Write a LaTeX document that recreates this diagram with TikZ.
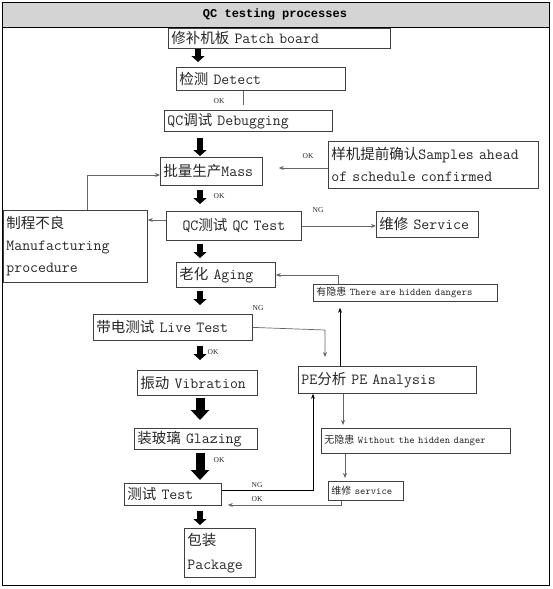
\documentclass[tikz,border=0pt]{standalone}
\usepackage{fontspec}
\setmainfont{Liberation Mono}
\newfontfamily\cjkf{Noto Sans CJK SC}
\newfontfamily\serf{Liberation Serif}
\usetikzlibrary{arrows.meta}
\newcommand\zh[1]{{\cjkf\fontsize{14.5}{21}\selectfont #1}}
\newcommand\zhs[1]{{\cjkf\fontsize{10}{12}\selectfont #1}}
\tikzset{
 box/.style={draw=black!75, line width=0.8pt, anchor=north west, inner xsep=3pt, inner ysep=0pt, align=left, text=black!85, font=\ttfamily\fontsize{15.4}{22}\selectfont},
 sbox/.style={box, font=\ttfamily\fontsize{10.2}{12}\selectfont},
 conn/.style={draw=black!60, line width=0.7pt, -{Stealth[length=5pt,width=4pt]}},
 plainconn/.style={draw=black!60, line width=0.7pt},
 bigarr/.style={line width=6pt, -{Triangle[length=6pt,width=13pt]}},
 bigarrw/.style={line width=9pt, -{Triangle[length=10pt,width=18pt]}},
 lbl/.style={font=\serf\fontsize{7.5}{9}\selectfont, inner sep=0pt, text=black!85}
}
\begin{document}
\begin{tikzpicture}[x=1pt,y=-1pt]
\useasboundingbox (0,0) rectangle (553,589);
% frame and title bar
\fill[black!17] (2,2) rectangle (549,27);
\draw[line width=0.8pt] (2,2) rectangle (549,585);
\draw[line width=0.8pt] (2,27) -- (549,27);
\node[font=\bfseries\fontsize{12}{14}\selectfont] (title) at (275,14.5) {QC testing processes};

% boxes
\node[box, text width=216pt, minimum height=20pt] (patch) at (168,28) {\mbox{\zh{修补机板} Patch board}};
\node[box, text width=163pt, minimum height=23pt] (detect) at (176,67) {\mbox{\zh{检测} Detect}};
\node[box, text width=162pt, minimum height=21pt] (debug) at (164,110) {\mbox{QC\zh{调试} Debugging}};
\node[box, text width=96pt, minimum height=28pt] (mass) at (160,157) {\mbox{\zh{批量生产}Mass}};
\node[box, text width=204pt, minimum height=47pt] (samples) at (328,141) {\mbox{\zh{样机提前确认}Samples ahead}\\\mbox{of schedule confirmed}};
\node[box, text width=138pt, minimum height=72pt] (manu) at (3,210) {\zh{制程不良}\\Manufacturing\\procedure};
\node[box, text width=129pt, minimum height=29pt, align=center] (qctest) at (166,211) {\mbox{QC\zh{测试} QC Test}};
\node[box, text width=96pt, minimum height=26pt] (service) at (376,211) {\mbox{\zh{维修} Service}};
\node[box, text width=93pt, minimum height=25pt] (aging) at (176,262) {\mbox{\zh{老化} Aging}};
\node[sbox, text width=178pt, minimum height=17pt] (hidden) at (313,284) {\mbox{\zhs{有隐患} There are hidden dangers}};
\node[box, text width=153pt, minimum height=26pt] (live) at (93,314) {\mbox{\zh{带电测试} Live Test}};
\node[box, text width=172pt, minimum height=27pt] (pe) at (298,366) {\mbox{PE\zh{分析} PE Analysis}};
\node[box, text width=114pt, minimum height=25pt] (vib) at (137,370) {\mbox{\zh{振动} Vibration}};
\node[box, text width=117pt, minimum height=21pt] (glaz) at (134,428) {\mbox{\zh{装玻璃} Glazing}};
\node[box, text width=91pt, minimum height=22pt] (test) at (124,483) {\mbox{\zh{测试} Test}};
\node[sbox, text width=183pt, minimum height=25pt] (without) at (321,428) {\mbox{\zhs{无隐患} Without the hidden danger}};
\node[sbox, text width=69pt, minimum height=19pt] (svc2) at (328,481) {\mbox{\zhs{维修} service}};
\node[box, text width=65pt, minimum height=49pt, font=\ttfamily\fontsize{15.4}{24}\selectfont] (pkg) at (184,528) {\zh{包装}\\Package};

% helper coordinates
\coordinate (xa) at (198,0);
\coordinate (xb) at (200,0);
\coordinate (xd) at (243,0);
\coordinate (ys) at (0,168);
\coordinate (fb) at (87,175);
\coordinate (yq) at (0,220);
\coordinate (xh) at (338,275);
\coordinate (lp) at (325,330);
\coordinate (xp) at (340,0);
\coordinate (tn) at (313,490);
\coordinate (xw) at (343,0);
\coordinate (xs) at (345,0);
\coordinate (ok1) at (341,505);

% big arrows
\draw[bigarr, shorten >=5pt] (patch.south -| xa) -- (detect.north -| xa);
\draw[bigarr, shorten <=6pt, shorten >=1pt] (debug.south -| xb) -- (mass.north -| xb);
\draw[bigarr, shorten <=4pt, shorten >=7pt] (mass.south -| xb) -- (qctest.north -| xb);
\draw[bigarr, shorten <=3pt, shorten >=4pt] (qctest.south -| xb) -- (aging.north -| xb);
\draw[bigarr, shorten <=3pt, shorten >=9pt] (aging.south -| xb) -- (live.north -| xb);
\draw[bigarr, shorten <=5pt, shorten >=10pt] (live.south -| xb) -- (vib.north -| xb);
\draw[bigarrw, shorten <=2pt, shorten >=8pt] (vib.south -| xb) -- (glaz.north -| xb);
\draw[bigarrw, shorten <=3pt, shorten >=3pt] (glaz.south -| xb) -- (test.north -| xb);
\draw[bigarr, shorten <=5pt, shorten >=3pt] (test.south -| xb) -- (pkg.north -| xb);

% thin connectors
\draw[plainconn] (detect.south -| xd) -- ++(0,14);
\draw[conn, shorten >=16pt] (samples.west |- ys) -- (mass.east |- ys);
\draw[conn] (manu.north -| fb) |- (mass.west |- fb);
\draw[conn] (qctest.west |- yq) -- (manu.east |- yq);
\draw[conn] (qctest.east) -- (qctest.east -| service.west);
\draw[conn] (hidden.north -| xh) -- (xh) -- (aging.east |- xh);
\draw[conn, shorten >=9pt] (live.east) -- (lp) -- (pe.north -| lp);
\draw[conn, draw=black, shorten >=6pt] (pe.north -| xp) -- (hidden.south -| xp);
\draw[conn, draw=black] (test.east |- tn) -- (tn) -- (pe.south -| tn);
\draw[conn, shorten >=3pt] (pe.south -| xw) -- (without.north -| xw);
\draw[conn, shorten >=3pt] (without.south -| xs) -- (svc2.north -| xs);
\draw[conn, shorten >=6pt] (svc2.south -| ok1) -- (ok1) -- (ok1 -| test.east);

% labels
\node[lbl] (l1) at (219,101) {OK};
\node[lbl] (l2) at (308,156) {OK};
\node[lbl] (l3) at (219,196) {OK};
\node[lbl] (l4) at (318,210) {NG};
\node[lbl] (l5) at (258,308) {NG};
\node[lbl] (l6) at (213,352) {OK};
\node[lbl] (l7) at (219,460) {OK};
\node[lbl] (l8) at (257,485) {NG};
\node[lbl] (l9) at (257,499) {OK};
\end{tikzpicture}
\end{document}
